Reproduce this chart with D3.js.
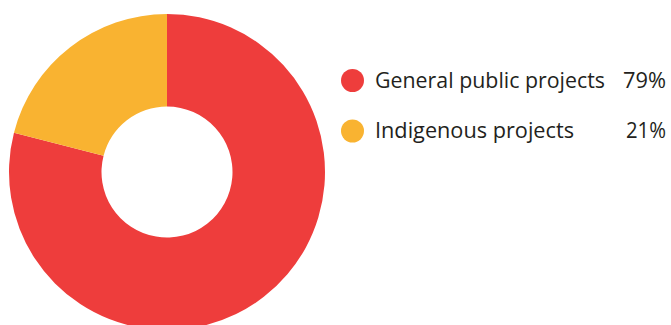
<!DOCTYPE html>
<html>
<head>
<meta charset="utf-8">
<script src="https://cdn.jsdelivr.net/npm/d3@7"></script>
<style>
  body { margin: 0; background: #fff; }
  svg { display: block; }
</style>
</head>
<body>
<script>
// chart values
const categories = ["General public projects", "Indigenous projects"];
const shares = [79, 21];
const shareLabels = ["79%", "21%"];
const colors = ["#ee3d3c", "#f9b331"];

const width = 671;
const height = 325;
const cx = 167;
const cy = 172;
const outerRadius = 158;
const innerRadius = 65.5;

const data = categories.map((c, i) => ({ name: c, value: shares[i], label: shareLabels[i] }));

const color = d3.scaleOrdinal()
    .domain(categories)
    .range(colors);

const pie = d3.pie()
    .sort(null)
    .value(d => d.value);

const arc = d3.arc()
    .innerRadius(innerRadius)
    .outerRadius(outerRadius);

const svg = d3.select("body")
  .append("svg")
    .attr("width", width)
    .attr("height", height)
    .attr("viewBox", [0, 0, width, height]);

// donut slices
svg.append("g")
    .attr("transform", `translate(${cx},${cy})`)
  .selectAll("path")
  .data(pie(data))
  .join("path")
    .attr("fill", d => color(d.data.name))
    .attr("d", arc);

// legend
const legendY = d3.scalePoint()
    .domain(categories)
    .range([80.5, 131]);

const legend = svg.append("g")
    .attr("font-family", "'Open Sans', sans-serif")
    .attr("font-size", 21)
    .attr("fill", "#231f20")
  .selectAll("g")
  .data(data)
  .join("g")
    .attr("transform", d => `translate(0,${legendY(d.name)})`);

legend.append("circle")
    .attr("cx", 352.5)
    .attr("r", 11.5)
    .attr("fill", d => color(d.name));

legend.append("text")
    .attr("x", 375)
    .attr("y", 7)
    .attr("textLength", d => d.name === categories[0] ? 230 : 199)
    .attr("lengthAdjust", "spacingAndGlyphs")
    .text(d => d.name);

legend.append("text")
    .attr("x", 666)
    .attr("y", 7)
    .attr("text-anchor", "end")
    .attr("textLength", d => d.label === "79%" ? 43 : 40)
    .attr("lengthAdjust", "spacingAndGlyphs")
    .text(d => d.label);
</script>
</body>
</html>
